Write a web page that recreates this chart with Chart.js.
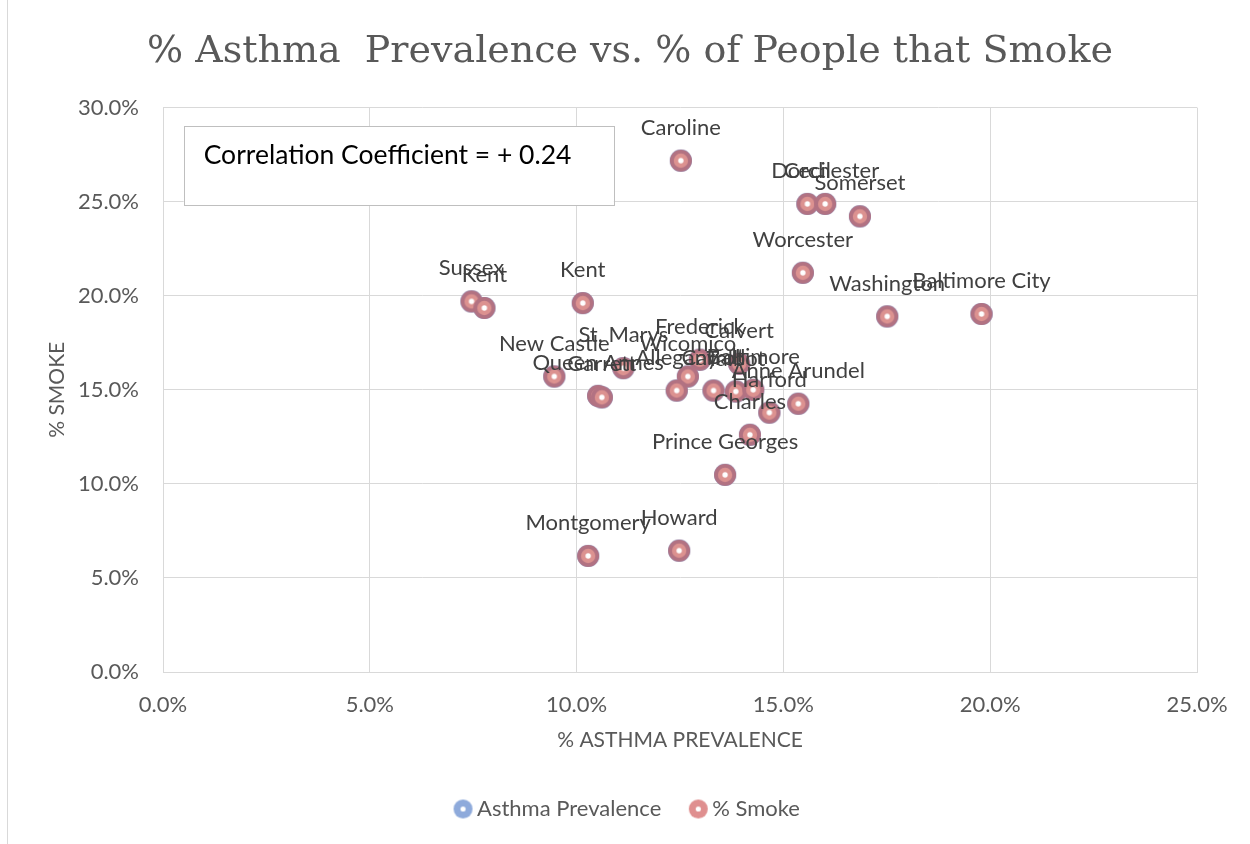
<!DOCTYPE html>
<html>
<head>
<meta charset="utf-8">
<script src="https://cdn.jsdelivr.net/npm/chart.js@4/dist/chart.umd.min.js"></script>
<style>
  html, body { margin: 0; padding: 0; background: #ffffff; }
  #wrap { width: 1250px; height: 844px; }
</style>
</head>
<body>
<div id="wrap"><canvas id="c" width="1250" height="844"></canvas></div>
<script>
// ---- Data ----
const counties = ['Caroline','Cecil','Dorchester','Somerset','Worcester','Washington','Baltimore City',
  'Sussex','Kent','Kent','New Castle','Queen Annes','Garrett','St. Marys','Frederick','Calvert',
  'Wicomico','Allegany','Carroll','Talbot','Baltimore','Anne Arundel','Harford','Charles',
  'Prince Georges','Montgomery','Howard'];
const asthmaPct = [12.52, 15.58, 16.01, 16.85, 15.47, 17.51, 19.79,
  7.46, 7.77, 10.15, 9.46, 10.52, 10.61, 11.13, 12.98, 13.93,
  12.69, 12.42, 13.31, 13.85, 14.27, 15.36, 14.66, 14.19,
  13.59, 10.28, 12.48];
const smokePct = [27.18, 24.88, 24.88, 24.22, 21.22, 18.90, 19.03,
  19.70, 19.35, 19.61, 15.71, 14.68, 14.60, 16.15, 16.60, 16.38,
  15.71, 14.96, 14.96, 14.91, 15.00, 14.26, 13.79, 12.61,
  10.48, 6.17, 6.45];
const xTicks = [0, 5, 10, 15, 20, 25];
const yTicks = [0, 5, 10, 15, 20, 25, 30];
const seriesNames = ['Asthma Prevalence', '% Smoke'];
const chartTitle = '% Asthma  Prevalence vs. % of People that Smoke';
const xTitle = '% ASTHMA PREVALENCE';
const yTitle = '% SMOKE';
const noteText = 'Correlation Coefficient = + 0.24';

// ---- Marker images ----
function ringMarker(outer, mid, rOuter, rMid, rDot) {
  const c = document.createElement('canvas');
  const s = Math.ceil(rOuter * 2) + 2;
  c.width = s; c.height = s;
  const g = c.getContext('2d');
  const m = s / 2;
  g.fillStyle = outer; g.beginPath(); g.arc(m, m, rOuter, 0, Math.PI * 2); g.fill();
  if (mid) { g.fillStyle = mid; g.beginPath(); g.arc(m, m, rMid, 0, Math.PI * 2); g.fill(); }
  g.fillStyle = '#ffffff'; g.beginPath(); g.arc(m, m, rDot, 0, Math.PI * 2); g.fill();
  return c;
}
const blueMarker = ringMarker('#7f9bd0', '#9db4de', 11, 7, 2.7);
const smokeMarker = ringMarker('#b27282', '#dc9290', 11, 7.2, 2.7);
const blueLegend = ringMarker('#8eaadb', null, 9.5, 0, 2.6);
const redLegend = ringMarker('#df8f8f', null, 9.5, 0, 2.6);

const points = asthmaPct.map((x, i) => ({ x: x, y: smokePct[i] }));

const FONT = 'Lato';
const GREY = '#595959';

const bgPlugin = {
  id: 'bg',
  beforeDraw(chart) {
    const ctx = chart.ctx;
    ctx.save();
    ctx.fillStyle = '#ffffff';
    ctx.fillRect(0, 0, chart.width, chart.height);
    ctx.strokeStyle = '#d9d9d9';
    ctx.lineWidth = 1;
    ctx.beginPath(); ctx.moveTo(7.5, 0); ctx.lineTo(7.5, chart.height); ctx.stroke();
    ctx.restore();
  }
};

const labelPlugin = {
  id: 'countyLabels',
  afterDatasetsDraw(chart) {
    const meta = chart.getDatasetMeta(1);
    const ctx = chart.ctx;
    ctx.save();
    ctx.font = '22px ' + FONT;
    ctx.fillStyle = '#404040';
    ctx.textAlign = 'center';
    ctx.textBaseline = 'middle';
    meta.data.forEach((pt, i) => { ctx.fillText(counties[i], pt.x, pt.y - 33); });
    // correlation note box
    const xs = chart.scales.x, ys = chart.scales.y;
    const left = xs.getPixelForValue(0.5), top = ys.getPixelForValue(29.0);
    const right = xs.getPixelForValue(10.9), bottom = ys.getPixelForValue(24.8);
    ctx.fillStyle = '#ffffff';
    ctx.fillRect(left, top, right - left, bottom - top);
    ctx.strokeStyle = '#bfbfbf';
    ctx.lineWidth = 1;
    ctx.strokeRect(Math.round(left) + 0.5, Math.round(top) + 0.5, Math.round(right - left), Math.round(bottom - top));
    ctx.fillStyle = '#000000';
    ctx.font = '26.5px ' + FONT;
    ctx.textAlign = 'left';
    ctx.fillText(noteText, left + 20, top + 29);
    ctx.restore();
  }
};

new Chart(document.getElementById('c'), {
  type: 'scatter',
  data: {
    datasets: [
      { label: seriesNames[0], data: points, order: 1, pointStyle: blueMarker, pointRadius: 11, pointHoverRadius: 11 },
      { label: seriesNames[1], data: points, order: 0, pointStyle: smokeMarker, pointRadius: 11, pointHoverRadius: 11 }
    ]
  },
  options: {
    responsive: false,
    animation: false,
    events: [],
    layout: { padding: { left: 63, right: 53, top: 0, bottom: 14 } },
    plugins: {
      title: {
        display: true,
        text: chartTitle,
        color: GREY,
        font: { family: 'DejaVu Serif', size: 38, weight: 'normal' },
        padding: { top: 29, bottom: 33 }
      },
      legend: {
        position: 'bottom',
        labels: {
          usePointStyle: true,
          pointStyleWidth: 6,
          padding: 34,
          color: GREY,
          font: { family: FONT, size: 22 },
          generateLabels(chart) {
            const items = Chart.defaults.plugins.legend.labels.generateLabels(chart);
            items.sort((a, b) => a.datasetIndex - b.datasetIndex);
            items.forEach((it) => { it.pointStyle = it.datasetIndex === 0 ? blueLegend : redLegend; });
            return items;
          }
        }
      },
      tooltip: { enabled: false }
    },
    scales: {
      x: {
        type: 'linear',
        min: xTicks[0], max: xTicks[xTicks.length - 1],
        afterBuildTicks(s) { s.ticks = xTicks.map(v => ({ value: v })); },
        afterFit(s) { s.height = 92; },
        ticks: { padding: 20, color: GREY, font: { family: FONT, size: 22 }, callback: v => v.toFixed(1) + '%' },
        grid: { color: '#d9d9d9', drawTicks: false },
        border: { color: '#d9d9d9' },
        title: { display: true, text: xTitle, color: GREY, font: { family: FONT, size: 21 }, padding: { top: 0, bottom: 11.4 } }
      },
      y: {
        type: 'linear',
        min: yTicks[0], max: yTicks[yTicks.length - 1],
        afterBuildTicks(s) { s.ticks = yTicks.map(v => ({ value: v })); },
        afterFit(s) { s.width = 100; },
        ticks: { padding: 24, color: GREY, font: { family: FONT, size: 22 }, callback: v => v.toFixed(1) + '%' },
        grid: { color: '#d9d9d9', drawTicks: false },
        border: { color: '#d9d9d9' },
        title: { display: true, text: yTitle, color: GREY, font: { family: FONT, size: 21 }, padding: { top: -18.6, bottom: 0 } }
      }
    }
  },
  plugins: [bgPlugin, labelPlugin]
});
</script>
</body>
</html>
